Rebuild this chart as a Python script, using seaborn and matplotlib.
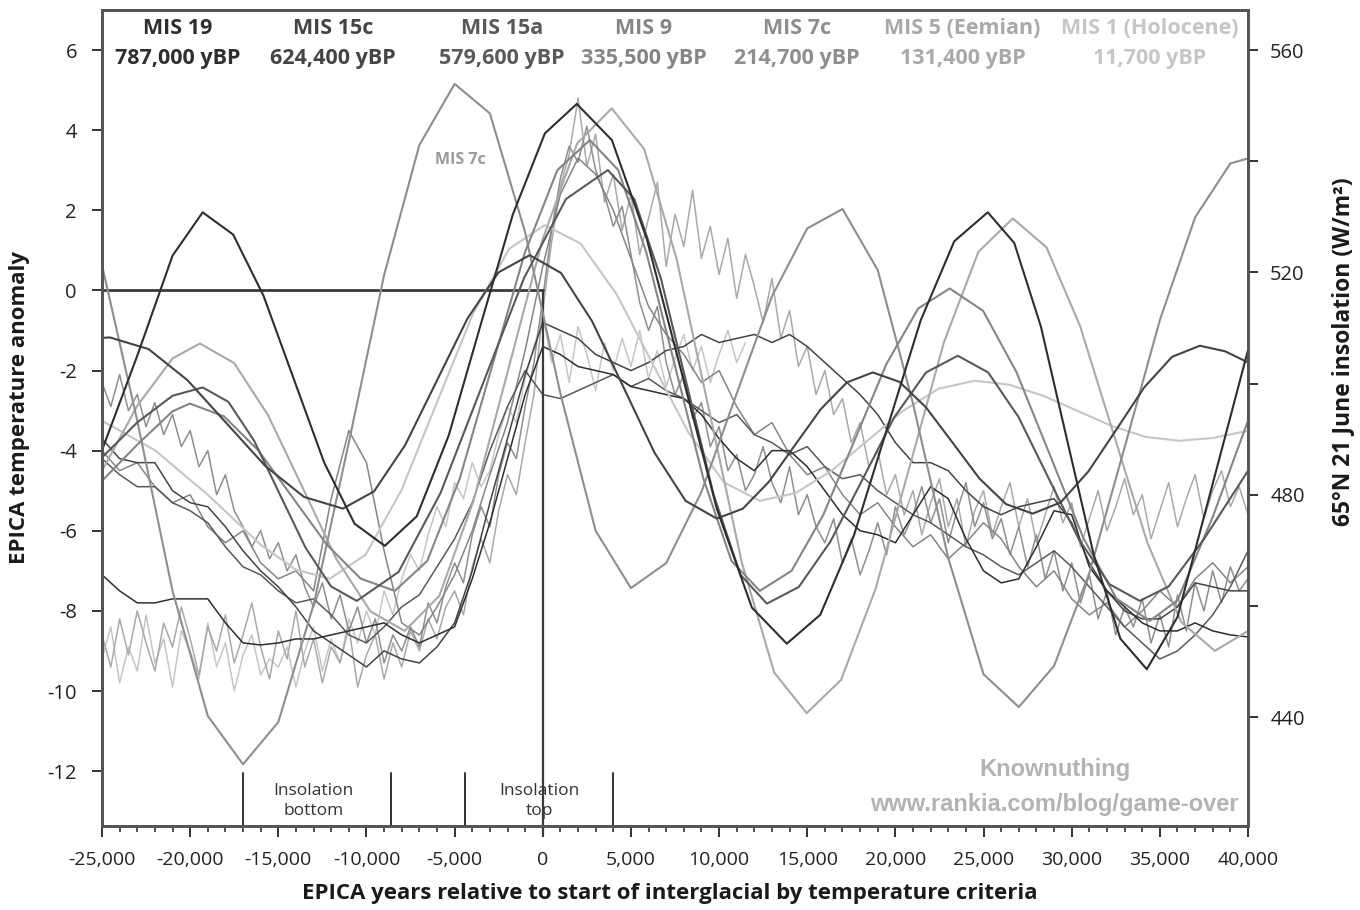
import numpy as np
import pandas as pd
import matplotlib
matplotlib.use("Agg")
import matplotlib.pyplot as plt
from matplotlib.ticker import FuncFormatter, MultipleLocator, FixedLocator
import seaborn as sns

# ---------------------------------------------------------------- data
# EPICA temperature anomaly per interglacial (years relative to start of interglacial)
years_500 = np.arange(-25000, 40001, 500)
years_1000 = np.arange(-25000, 40001, 1000)
years_holo = np.arange(-25000, 11501, 500)

temp_mis19 = [-7.1, -7.5, -7.8, -7.8, -7.7, -7.7, -7.7, -8.3, -8.8, -8.85,
              -8.8, -8.7, -8.7, -8.6, -8.5, -8.4, -8.3, -8.6, -8.8, -8.6,
              -8.4, -7.2, -5.8, -4.2, -2.6, -1.4, -1.6, -1.9, -2.0, -2.1,
              -2.4, -2.5, -2.6, -2.7, -3.1, -3.7, -4.2, -4.5, -4.0, -4.0,
              -4.4, -5.0, -5.6, -6.0, -6.1, -6.3, -5.6, -4.9, -5.2, -6.2,
              -7.0, -7.3, -7.2, -6.4, -5.5, -5.6, -6.9, -7.5, -7.9, -8.3,
              -8.5, -8.5, -8.3, -8.5, -8.6, -8.65]

temp_mis15c = [-3.7, -4.2, -4.3, -4.3, -5.0, -5.3, -5.4, -5.9, -6.5, -7.0,
               -7.4, -7.9, -8.5, -8.8, -9.1, -9.4, -9.0, -9.2, -9.3, -8.9,
               -8.3, -7.0, -5.3, -3.7, -2.1, -0.8, -1.0, -1.2, -1.6, -1.8,
               -2.0, -1.8, -1.5, -1.4, -1.1, -1.3, -1.2, -1.1, -1.3, -1.1,
               -1.4, -1.8, -2.2, -2.6, -3.1, -3.8, -4.3, -4.3, -4.5, -5.0,
               -5.4, -5.6, -5.4, -5.3, -5.2, -5.8, -6.8, -7.5, -8.0, -8.2,
               -8.2, -7.9, -7.3, -7.4, -7.5, -7.5]

temp_mis15a = [-4.2, -4.6, -4.9, -4.9, -5.3, -5.5, -5.8, -6.4, -6.9, -7.1,
               -7.5, -7.8, -7.7, -8.1, -8.6, -8.8, -8.4, -7.9, -7.6, -6.9,
               -6.2, -5.3, -4.0, -2.9, -2.0, -2.6, -2.7, -2.5, -2.3, -2.1,
               -2.4, -2.2, -2.5, -2.7, -3.0, -3.3, -3.1, -3.6, -3.8, -4.1,
               -3.9, -4.4, -4.7, -4.6, -5.0, -5.3, -5.6, -5.8, -6.1, -6.4,
               -6.6, -6.9, -7.1, -6.8, -6.5, -6.9, -7.4, -7.9, -8.4, -8.8,
               -9.2, -9.0, -8.6, -8.1, -7.4, -6.5]

temp_mis9 = [-4.0, -4.5, -4.3, -4.9, -5.3, -5.1, -5.9, -6.3, -6.0, -6.8,
             -7.2, -7.0, -7.5, -5.2, -3.5, -4.3, -6.5, -8.3, -8.6, -7.9,
             -7.1, -6.0, -4.6, -3.3, -1.5, 0.6, 2.4, 3.3, 2.9, 2.0,
             0.8, -0.4, -1.1, -1.6, -2.3, -2.0, -2.9, -3.6, -3.3, -4.1,
             -4.6, -4.4, -5.1, -5.6, -5.3, -5.9, -6.4, -6.1, -6.7, -6.3,
             -5.8, -6.2, -6.9, -7.4, -7.0, -7.7, -8.1, -7.8, -8.4, -8.0,
             -7.5, -7.9, -7.2, -6.8, -7.3, -6.9]

temp_mis7c = [-2.3, -2.9, -2.1, -3.0, -2.6, -3.4, -2.8, -3.6, -3.1, -3.9,
              -3.5, -4.4, -4.0, -5.1, -4.6, -5.5, -5.9, -6.4, -6.0, -6.7,
              -6.3, -7.0, -6.6, -7.4, -7.9, -7.3, -8.2, -7.6, -8.5, -7.9,
              -8.8, -8.2, -9.3, -8.6, -9.0, -8.4, -8.9, -7.8, -8.3, -7.4,
              -6.8, -7.3, -6.1, -5.4, -5.9, -4.6, -3.8, -4.2, -2.9, -1.8,
              -0.2, 1.5, 2.8, 3.6, 3.2, 4.1, 3.0, 2.4, 1.6, 2.1,
              0.9, -0.3, -1.0, -0.4, -1.8, -2.6, -2.1, -3.2, -2.8, -3.9,
              -3.4, -4.5, -4.1, -5.0, -4.6, -3.9, -4.8, -5.3, -4.4, -5.6,
              -5.1, -5.9, -6.3, -5.7, -6.8, -6.2, -7.1, -6.5, -5.8, -6.6,
              -5.4, -6.1, -5.6, -4.9, -5.8, -5.2, -6.3, -5.5, -4.8, -5.9,
              -5.3, -6.2, -5.7, -6.6, -5.9, -6.9, -6.1, -7.2, -6.5, -7.5,
              -6.8, -7.8, -7.1, -8.2, -7.5, -8.6, -7.9, -8.4, -7.7, -8.8,
              -8.1, -8.9, -7.6, -8.5, -7.3, -8.0, -7.0, -7.8, -6.9, -7.5,
              -7.2]

temp_mis5 = [-8.6, -9.4, -8.2, -9.1, -8.0, -8.8, -9.5, -8.3, -8.9, -7.9,
             -8.7, -9.6, -8.4, -9.0, -8.1, -9.3, -8.6, -7.8, -8.9, -9.7,
             -8.5, -9.2, -8.0, -9.4, -8.7, -9.8, -8.9, -9.3, -8.4, -9.9,
             -9.1, -8.6, -9.7, -8.8, -9.4, -8.5, -9.0, -8.2, -8.7, -7.9,
             -7.5, -8.1, -6.9, -6.2, -6.8, -5.5, -4.6, -5.1, -3.8, -2.6,
             -0.5, 1.2, 2.6, 3.4, 4.8, 3.1, 3.9, 2.2, 2.9, 1.5,
             2.4, 0.9, 1.8, 2.7, 0.6, 1.9, 1.1, 2.5, 0.8, 1.6,
             0.4, 1.3, -0.2, 0.9, 0.1, -0.8, 0.3, -1.2, -0.5, -1.9,
             -1.4, -2.6, -2.0, -3.1, -2.7, -3.8, -3.3, -4.4, -4.0, -5.1,
             -4.6, -5.6, -5.0, -6.1, -5.3, -4.7, -5.9, -5.2, -6.4, -5.5,
             -5.0, -6.1, -5.4, -4.8, -5.9, -5.2, -6.3, -5.6, -4.9, -5.8,
             -5.3, -6.4, -5.7, -5.0, -6.0, -5.4, -4.7, -5.6, -5.1, -6.2,
             -5.5, -4.8, -5.9, -5.2, -4.6, -5.7, -5.0, -4.5, -5.4, -4.9,
             -5.6]

temp_mis1 = [-9.2, -8.4, -9.8, -8.9, -9.5, -8.1, -9.3, -8.7, -9.9, -8.5,
             -9.0, -9.7, -8.3, -9.4, -8.8, -10.0, -9.1, -8.6, -9.6, -9.2,
             -9.4, -8.9, -9.9, -9.0, -8.4, -9.5, -8.7, -9.3, -8.2, -8.8,
             -8.0, -8.6, -7.5, -8.1, -7.2, -6.6, -7.0, -6.1, -5.4, -5.9,
             -4.8, -5.2, -4.3, -4.9, -4.5, -3.6, -2.9, -3.3, -2.2, -1.4,
             -0.6, -1.8, -1.1, -2.3, -0.9, -1.6, -2.5, -1.3, -2.0, -1.2,
             -1.9, -1.0, -2.2, -1.5, -2.4, -1.7, -1.1, -2.0, -1.4, -2.3,
             -1.6, -1.0, -1.8, -1.3]

# 65N 21 June insolation (W/m2) for each interglacial
ins_mis19_x = [-25000, -23000, -21000, -19290, -17560, -15840, -14120, -12400, -10680, -8960,
               -7150, -5330, -3520, -1700, 120, 1930, 3920, 5900, 7890, 9870,
               11860, 13840, 15740, 17640, 19540, 21440, 23340, 25240, 26740, 28250,
               29750, 31250, 32760, 34260, 36000, 38000, 40000]
ins_mis19 = [488.0, 505.0, 523.0, 530.8, 526.8, 515.8, 500.8, 485.8, 474.8, 470.8,
             476.1, 490.7, 510.6, 530.4, 545.0, 550.3, 543.8, 526.0, 501.8, 477.5,
             459.7, 453.2, 458.4, 472.6, 492.0, 511.4, 525.6, 530.8, 525.3, 510.3,
             489.7, 469.2, 454.1, 448.6, 458.0, 482.0, 506.0]

ins_mis15c_x = [-25000, -24560, -22360, -20150, -17950, -15750, -13540, -11340, -9570, -7810,
                -6040, -4270, -2510, -740, 1030, 2800, 4570, 6330, 8100, 9870,
                11350, 12820, 14300, 15770, 17250, 18720, 20230, 21740, 23260, 24770,
                26280, 27790, 29370, 30950, 32530, 34110, 35690, 37270, 38700, 40000]
ins_mis15c = [508.2, 508.3, 506.2, 500.6, 492.9, 485.2, 479.6, 477.5, 480.6, 488.9,
              500.3, 511.7, 520.0, 523.1, 519.9, 511.2, 499.4, 487.6, 478.9, 475.7,
              477.5, 482.3, 488.9, 495.4, 500.2, 502.0, 500.3, 495.7, 489.3, 482.9,
              478.3, 476.6, 478.6, 484.2, 491.7, 499.3, 504.8, 506.8, 505.8, 503.8]

ins_mis15a_x = [-25000, -23000, -21000, -19290, -17830, -16370, -14920, -13460, -12010, -10550,
                -8180, -5800, -3430, -1060, 1320, 3690, 5190, 6700, 8200, 9700,
                11210, 12710, 14520, 16320, 18130, 19930, 21740, 23540, 25260, 26980,
                28700, 30420, 32140, 33860, 35500, 37500, 40000]
ins_mis15a = [486.7, 493.0, 497.8, 499.3, 496.7, 489.7, 480.1, 470.5, 463.5, 460.9,
              466.1, 480.3, 499.7, 519.0, 533.2, 538.4, 533.2, 518.9, 499.4, 479.9,
              465.6, 460.4, 463.4, 471.6, 482.7, 493.9, 502.0, 505.0, 502.0, 494.0,
              482.9, 471.9, 463.9, 460.9, 463.5, 472.0, 484.3]

ins_mis9_x = [-25000, -23000, -21000, -20020, -18080, -16140, -14210, -12270, -10330, -8390,
              -6550, -4700, -2860, -1020, 830, 2670, 4280, 5880, 7490, 9100,
              10700, 12310, 14110, 15900, 17700, 19490, 21290, 23080, 24970, 26860,
              28760, 30650, 32540, 34430, 36000, 38000, 40000]
ins_mis9 = [482.5, 489.0, 495.0, 496.4, 494.1, 488.0, 479.6, 471.1, 464.9, 462.7,
            468.1, 483.0, 503.3, 523.5, 538.4, 543.8, 538.4, 523.5, 503.3, 483.0,
            468.1, 462.7, 466.3, 476.3, 489.9, 503.5, 513.5, 517.1, 513.1, 502.1,
            487.2, 472.3, 461.3, 457.3, 461.0, 476.0, 493.3]

ins_mis7c_x = [-25000, -23000, -21000, -19000, -17000, -15000, -13000, -11000, -9000, -7000,
               -5000, -3000, -1000, 1000, 3000, 5000, 7000, 9000, 11000, 13000,
               15000, 17000, 19000, 21000, 23000, 25000, 27000, 29000, 31000, 33000,
               35000, 37000, 39000, 40000]
ins_mis7c = [521.3, 493.3, 462.7, 440.2, 431.5, 439.1, 460.2, 489.4, 519.5, 542.9,
             553.9, 548.6, 527.2, 498.2, 473.5, 463.2, 467.7, 480.5, 498.2, 515.7,
             527.9, 531.4, 520.4, 496.4, 468.6, 447.7, 441.8, 449.2, 465.9, 488.5,
             511.4, 529.9, 539.6, 540.5]

ins_mis5_x = [-25000, -23000, -21000, -19450, -17510, -15580, -13640, -11700, -9770, -7830,
              -5870, -3920, -1960, 0, 1950, 3910, 5750, 7600, 9440, 11280,
              13130, 14970, 16920, 18870, 20820, 22760, 24710, 26660, 28570, 30480,
              32390, 34300, 36210, 38120, 40000]
ins_mis5 = [484.3, 496.0, 504.5, 507.2, 503.7, 494.3, 481.4, 468.4, 459.0, 455.5,
            461.8, 479.0, 502.5, 526.0, 543.2, 549.5, 542.2, 522.3, 495.1, 467.9,
            448.0, 440.7, 446.7, 463.0, 485.2, 507.5, 523.7, 529.7, 524.5, 510.3,
            490.8, 471.3, 457.1, 451.9, 455.5]

ins_mis1_x = [-25000, -22000, -19000, -16000, -14000, -12080, -10050, -8020, -5990, -3950,
              -1920, 110, 2140, 4180, 6210, 8240, 10280, 12310, 14340, 16370,
              18410, 20440, 22470, 24500, 26440, 28380, 30320, 32250, 34190, 36130,
              38000, 40000]
ins_mis1 = [493.3, 488.0, 480.0, 471.0, 466.5, 464.9, 469.2, 480.8, 496.7, 512.6,
            524.2, 528.5, 525.2, 516.1, 503.7, 491.3, 482.2, 478.9, 480.3, 484.3,
            489.7, 495.1, 499.1, 500.5, 499.8, 497.8, 495.1, 492.4, 490.4, 489.7,
            490.2, 491.5]

# interglacial headers
mis_names = ["MIS 19", "MIS 15c", "MIS 15a", "MIS 9", "MIS 7c", "MIS 5 (Eemian)", "MIS 1 (Holocene)"]
mis_ages = ["787,000 yBP", "624,400 yBP", "579,600 yBP", "335,500 yBP", "214,700 yBP", "131,400 yBP", "11,700 yBP"]
mis_colors = ["#2e2e2e", "#444444", "#595959", "#858585", "#8e8e8e", "#a9a9a9", "#c6c6c6"]
mis_label_x = [-20700, -11900, -2330, 5730, 14400, 23800, 34400]

# insolation phase boundaries
phase_edges = [-17020, -8620, -4420, 3970]

# ---------------------------------------------------------------- style
sns.set_style("white")
plt.rcParams["font.family"] = ["Open Sans", "DejaVu Sans"]
plt.rcParams["axes.unicode_minus"] = False

fig = plt.figure(figsize=(13.6, 9.1), dpi=100)
ax = fig.add_axes([102 / 1360, 84 / 910, 1146 / 1360, 816 / 910])
ax2 = ax.twinx()

palette = dict(zip(mis_names, mis_colors))

temp_frames = [
    pd.DataFrame({"year": years_1000, "value": temp_mis19, "mis": "MIS 19"}),
    pd.DataFrame({"year": years_1000, "value": temp_mis15c, "mis": "MIS 15c"}),
    pd.DataFrame({"year": years_1000, "value": temp_mis15a, "mis": "MIS 15a"}),
    pd.DataFrame({"year": years_1000, "value": temp_mis9, "mis": "MIS 9"}),
    pd.DataFrame({"year": years_500, "value": temp_mis7c, "mis": "MIS 7c"}),
    pd.DataFrame({"year": years_500, "value": temp_mis5, "mis": "MIS 5 (Eemian)"}),
    pd.DataFrame({"year": years_holo, "value": temp_mis1, "mis": "MIS 1 (Holocene)"}),
]
ins_frames = [
    pd.DataFrame({"year": ins_mis19_x, "value": ins_mis19, "mis": "MIS 19"}),
    pd.DataFrame({"year": ins_mis15c_x, "value": ins_mis15c, "mis": "MIS 15c"}),
    pd.DataFrame({"year": ins_mis15a_x, "value": ins_mis15a, "mis": "MIS 15a"}),
    pd.DataFrame({"year": ins_mis9_x, "value": ins_mis9, "mis": "MIS 9"}),
    pd.DataFrame({"year": ins_mis7c_x, "value": ins_mis7c, "mis": "MIS 7c"}),
    pd.DataFrame({"year": ins_mis5_x, "value": ins_mis5, "mis": "MIS 5 (Eemian)"}),
    pd.DataFrame({"year": ins_mis1_x, "value": ins_mis1, "mis": "MIS 1 (Holocene)"}),
]
temps = pd.concat(temp_frames, ignore_index=True)
ins = pd.concat(ins_frames, ignore_index=True)

# lighter (younger) series first so the dark ones sit on top
order = mis_names[::-1]
for name in order:
    sub = temps[temps["mis"] == name]
    sns.lineplot(data=sub, x="year", y="value", color=palette[name], lw=1.1,
                 estimator=None, sort=False, legend=False, ax=ax)
for name in order:
    sub = ins[ins["mis"] == name]
    sns.lineplot(data=sub, x="year", y="value", color=palette[name], lw=1.5,
                 estimator=None, sort=False, legend=False, ax=ax2)

# reference lines
ax.plot([-25000, 0], [0, 0], color="#3a3a3a", lw=2.0, zorder=5)
ax.plot([0, 0], [0, -13.6], color="#3a3a3a", lw=1.6, zorder=5, clip_on=False)
for xe in phase_edges:
    ax.plot([xe, xe], [-12.05, -13.37], color="#333333", lw=1.4, zorder=5)

# ---------------------------------------------------------------- axes
ax.set_xlim(-25000, 40000)
ax.set_ylim(-13.37, 7.0)
ax2.set_ylim(420.4, 567.2)

ax.xaxis.set_major_locator(MultipleLocator(5000))
ax.xaxis.set_minor_locator(MultipleLocator(1000))
ax.xaxis.set_major_formatter(FuncFormatter(lambda v, p: f"{int(v):,}"))
ax.yaxis.set_major_locator(FixedLocator([-12, -10, -8, -6, -4, -2, 0, 2, 4, 6]))
ax.yaxis.set_major_formatter(FuncFormatter(lambda v, p: f"{int(v)}"))
ax2.yaxis.set_major_locator(FixedLocator([440, 480, 520, 560]))
ax2.yaxis.set_minor_locator(FixedLocator([460, 500, 540]))

tick_col = "#333333"
ax.tick_params(axis="x", which="major", direction="out", length=8, width=1.4,
               color=tick_col, labelsize=14, pad=10, labelcolor="#222222", bottom=True)
ax.tick_params(axis="x", which="minor", direction="out", length=4.5, width=1.2,
               color=tick_col, bottom=True)
ax.tick_params(axis="y", which="major", direction="out", length=7, width=1.4,
               color=tick_col, labelsize=14.5, pad=11, labelcolor="#222222", left=True)
ax2.tick_params(axis="y", which="both", direction="out", length=7, width=1.4,
                color=tick_col, labelsize=14.5, pad=9, labelcolor="#222222", right=True)
ax.set_xlabel("")
ax.set_ylabel("")
ax2.set_ylabel("")

for a in (ax, ax2):
    for s in a.spines.values():
        s.set_color("#555555")
        s.set_linewidth(2.0)

# ---------------------------------------------------------------- text
xt = ax.get_xaxis_transform()
for name, age, col, xl in zip(mis_names, mis_ages, mis_colors, mis_label_x):
    ax.text(xl, 0.977, name, transform=xt, ha="center", va="center",
            fontsize=15.5, fontweight="bold", color=col)
    ax.text(xl, 0.941, age, transform=xt, ha="center", va="center",
            fontsize=15.5, fontweight="bold", color=col)

ax.text(-4700, 3.25, "MIS 7c", ha="center", va="center", fontsize=11.5,
        fontweight="bold", color="#9a9a9a")

ax.text(-12990, -12.75, "Insolation\nbottom", ha="center", va="center",
        fontsize=12.5, color="#333333", linespacing=1.35)
ax.text(-170, -12.75, "Insolation\ntop", ha="center", va="center",
        fontsize=12.5, color="#333333", linespacing=1.35)

ax.text(29040, 0.069, "Knownuthing", transform=xt, ha="center", va="center",
        fontsize=17, fontweight="bold", color="#b3b3b3", family="Liberation Sans")
ax.text(29040, 0.026, "www.rankia.com/blog/game-over", transform=xt, ha="center",
        va="center", fontsize=17, fontweight="bold", color="#b3b3b3",
        family="Liberation Sans")

fig.text(670 / 1360, 1 - 893 / 910,
         "EPICA years relative to start of interglacial by temperature criteria",
         ha="center", va="center", fontsize=16, fontweight="bold", color="#1a1a1a")
fig.text(20 / 1360, 1 - 408 / 910, "EPICA temperature anomaly", rotation=90,
         ha="center", va="center", fontsize=16, fontweight="bold", color="#1a1a1a")
fig.text(1343 / 1360, 1 - 352 / 910, "65°N 21 June insolation (W/m²)", rotation=90,
         ha="center", va="center", fontsize=16.5, fontweight="bold", color="#1a1a1a")

fig.savefig("out.png", dpi=100, facecolor="white")
